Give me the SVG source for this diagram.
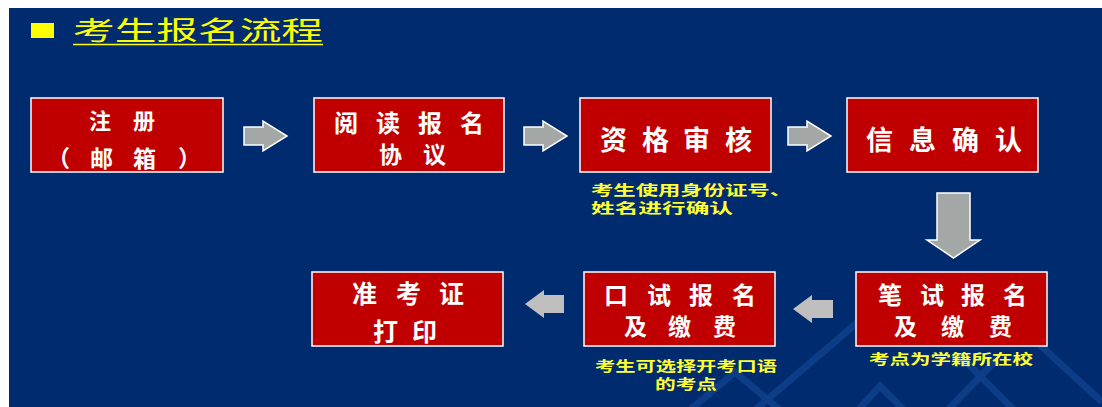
<svg xmlns="http://www.w3.org/2000/svg" width="1102" height="407" viewBox="0 0 1102 407">
<style>
.box{fill:#c00000;stroke:#ffffff;stroke-width:1.5}
.bt{fill:#ffffff;font-family:"Noto Sans CJK SC","Noto Sans CJK TC",sans-serif;font-weight:bold}
.cap{fill:#ffff33;font-family:"Noto Sans CJK SC",sans-serif;font-weight:bold;font-size:14px}
.arrT{fill:#a3a7a6;stroke:#ffffff;stroke-width:1.5;stroke-linejoin:miter}
.arrB{fill:#bfbfbf}
.deco{fill:none;stroke:#0f3f8a;stroke-width:7;opacity:0.9}
</style>
<rect x="0" y="0" width="1102" height="407" fill="#ffffff"/>
<rect x="9" y="8" width="1093" height="399" fill="#002b6e"/>
<g id="decoration">
<polyline class="deco" points="690,410 735,372 780,410"/>
<line class="deco" x1="755" y1="410" x2="858" y2="322"/>
<polyline class="deco" points="858,410 880,386 904,410"/>
<line class="deco" x1="948" y1="410" x2="996" y2="360"/>
<line class="deco" x1="960" y1="356" x2="1014" y2="410"/>
<line class="deco" x1="1040" y1="345" x2="1102" y2="402"/>
</g>
<g id="title">
<rect x="31" y="23" width="23" height="15" fill="#ffff00"/>
<text x="73" y="40" font-family="Noto Sans CJK SC,sans-serif" font-size="26" fill="#ffff00" textLength="250" lengthAdjust="spacingAndGlyphs">考生报名流程</text>
<line x1="73" y1="44.5" x2="323" y2="44.5" stroke="#ffff00" stroke-width="1.5"/>
</g>
<g id="connectors">
<path class="arrT" d="M244,127 H263 V121 L287,136 L263,151 V145 H244 Z"/>
<path class="arrT" d="M524,127 H543 V121 L567,136 L543,151 V145 H524 Z"/>
<path class="arrT" d="M788,127 H807 V121 L831,136 L807,151 V145 H788 Z"/>
<path class="arrT" d="M937,193 H970 V240 H980 L953.5,258 L927,240 H937 Z"/>
<path class="arrB" d="M525,304 L544,290 V295 H564 V313 H544 V318 Z"/>
<path class="arrB" d="M793,309 L812,295 V300 H833 V318 H812 V323 Z"/>
</g>
<g id="node-register">
<rect class="box" x="31" y="98" width="192" height="74"/>
<text class="bt" font-size="22" y="129" x="89 133">注册</text>
<text class="bt" font-size="23" y="167" x="47 90 133 178">（邮箱）</text>
</g>
<g id="node-agreement">
<rect class="box" x="314" y="98" width="190" height="74"/>
<text class="bt" font-size="24" y="132" x="334 376 418 460">阅读报名</text>
<text class="bt" font-size="23" y="163" x="379 423">协议</text>
</g>
<g id="node-review">
<rect class="box" x="580" y="98" width="191" height="74"/>
<text class="bt" font-size="27" y="150" x="600 642 683 725">资格审核</text>
<text class="cap" x="591" y="195" font-size="13.5" textLength="201" lengthAdjust="spacingAndGlyphs">考生使用身份证号、</text>
<text class="cap" x="591" y="213" font-size="13.5" textLength="142" lengthAdjust="spacingAndGlyphs">姓名进行确认</text>
</g>
<g id="node-confirm">
<rect class="box" x="847" y="98" width="191" height="74"/>
<text class="bt" font-size="27" y="150" x="866 909 952 995">信息确认</text>
</g>
<g id="node-written">
<rect class="box" x="856" y="272" width="191" height="74"/>
<text class="bt" font-size="24" y="304" x="878 920 961 1003">笔试报名</text>
<text class="bt" font-size="23" y="335" x="894 941 989">及缴费</text>
<text class="cap" x="869" y="364" textLength="164" lengthAdjust="spacingAndGlyphs">考点为学籍所在校</text>
</g>
<g id="node-oral">
<rect class="box" x="584" y="272" width="191" height="74"/>
<text class="bt" font-size="24" y="304" x="604 647 689 732">口试报名</text>
<text class="bt" font-size="23" y="335" x="624 668 713">及缴费</text>
<text class="cap" x="595" y="371" textLength="182" lengthAdjust="spacingAndGlyphs">考生可选择开考口语</text>
<text class="cap" x="655" y="389" textLength="62" lengthAdjust="spacingAndGlyphs">的考点</text>
</g>
<g id="node-admission">
<rect class="box" x="312" y="272" width="191" height="74"/>
<text class="bt" font-size="25" y="303" x="352 396 439">准考证</text>
<text class="bt" font-size="25" y="341" x="373 412">打印</text>
</g>
</svg>
